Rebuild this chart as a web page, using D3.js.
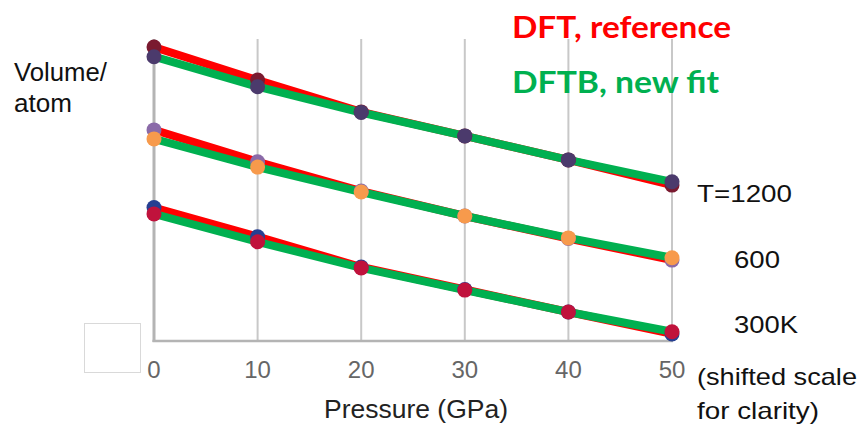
<!DOCTYPE html>
<html><head><meta charset="utf-8">
<script src="https://cdn.jsdelivr.net/npm/d3@7"></script>
<style>body{margin:0;background:#fff}svg{display:block}</style>
</head><body>
<script>
// Data (shifted volume, arbitrary units)
const pressures = [0, 10, 20, 30, 40, 50];
const xTicks = [0, 10, 20, 30, 40, 50];
const dft1200  = [98.3, 87.3, 76.7, 68.7, 60.7, 52.3];
const dftb1200 = [95.1, 85.1, 76.5, 68.7, 60.7, 53.4];
const dft600   = [70.7, 60.1, 50.3, 42.0, 34.5, 27.3];
const dftb600  = [67.7, 58.3, 50.0, 42.0, 34.7, 28.1];
const dft300   = [44.8, 35.1, 25.0, 17.5, 10.0, 2.7];
const dftb300  = [42.7, 33.4, 24.7, 17.3, 10.0, 3.4];

const dftSeries  = [{v: dft1200, c: "#7a1a30"}, {v: dft600, c: "#8a6aa8"}, {v: dft300, c: "#263f92"}];
const dftbSeries = [{v: dftb1200, c: "#4b3a6c"}, {v: dftb600, c: "#f79a4c"}, {v: dftb300, c: "#c0123c"}];

const W = 860, H = 433;
const svg = d3.select("body").append("svg").attr("width", W).attr("height", H);
const x = d3.scaleLinear().domain([0, 50]).range([154, 672]);
const y = d3.scaleLinear().domain([0, 100]).range([342, 42]);
const gridTop = 39;
const font = "'Liberation Sans', Arial, sans-serif";

// gridlines
svg.append("g").selectAll("line").data(xTicks.slice(1)).join("line")
  .attr("x1", d => x(d)).attr("x2", d => x(d))
  .attr("y1", gridTop).attr("y2", 341)
  .attr("stroke", "#c8c8c8").attr("stroke-width", 2);
// axes lines
svg.append("line").attr("x1", x(0)).attr("x2", x(0)).attr("y1", gridTop).attr("y2", 342)
  .attr("stroke", "#b4b4b4").attr("stroke-width", 3);
svg.append("line").attr("x1", x(0) - 1.5).attr("x2", x(50) + 1).attr("y1", 341).attr("y2", 341)
  .attr("stroke", "#b4b4b4").attr("stroke-width", 2.5);

// tick labels
svg.append("g").selectAll("text").data(xTicks).join("text")
  .attr("x", d => x(d)).attr("y", 378)
  .attr("text-anchor", "middle").attr("font-family", font).attr("font-size", 24)
  .attr("fill", "#666").text(d => d);

// empty box
svg.append("rect").attr("x", 84.5).attr("y", 323.5).attr("width", 56).attr("height", 49)
  .attr("fill", "#fff").attr("stroke", "#d9d9d9").attr("stroke-width", 1);

const line = d3.line().x((d, i) => x(pressures[i])).y(d => y(d));
// lines
svg.append("g").selectAll("path").data(dftSeries).join("path")
  .attr("d", d => line(d.v)).attr("fill", "none").attr("stroke", "#ff0000").attr("stroke-width", 8);
svg.append("g").selectAll("path").data(dftbSeries).join("path")
  .attr("d", d => line(d.v)).attr("fill", "none").attr("stroke", "#00b050").attr("stroke-width", 8);

// points
function drawPts(series) {
  const g = svg.append("g");
  series.forEach(s => {
    g.append("g").selectAll("circle").data(s.v).join("circle")
      .attr("cx", (d, i) => x(pressures[i])).attr("cy", d => y(d))
      .attr("r", 7.5).attr("fill", s.c);
  });
}
drawPts(dftSeries);
drawPts(dftbSeries);

// texts
function txt(t, xx, yy, size, color, len, weight, fam) {
  const e = svg.append("text").attr("x", xx).attr("y", yy)
    .attr("font-family", fam || font).attr("font-size", size)
    .attr("fill", color).attr("font-weight", weight || 400).text(t);
  if (len) e.attr("textLength", len).attr("lengthAdjust", "spacingAndGlyphs");
  return e;
}
txt("Volume/", 14, 81, 25, "#111", 93);
txt("atom", 14, 112, 25, "#111", 58);
txt("Pressure (GPa)", 324, 418, 25, "#222", 184);
txt("T=1200", 697, 202, 24, "#111", 95);
txt("600", 734, 268, 24, "#111", 46);
txt("300K", 734, 333, 24, "#111", 64);
txt("(shifted scale", 697, 385, 24, "#111", 160);
txt("for clarity)", 697, 419, 24, "#111", 122);
txt("DFT, reference", 512, 38, 31, "#ff0000", 219, 700, "Lato, 'Open Sans', sans-serif");
txt("DFTB, new fit", 512, 93, 31, "#00b050", 207, 700, "Lato, 'Open Sans', sans-serif");
</script>
</body></html>
